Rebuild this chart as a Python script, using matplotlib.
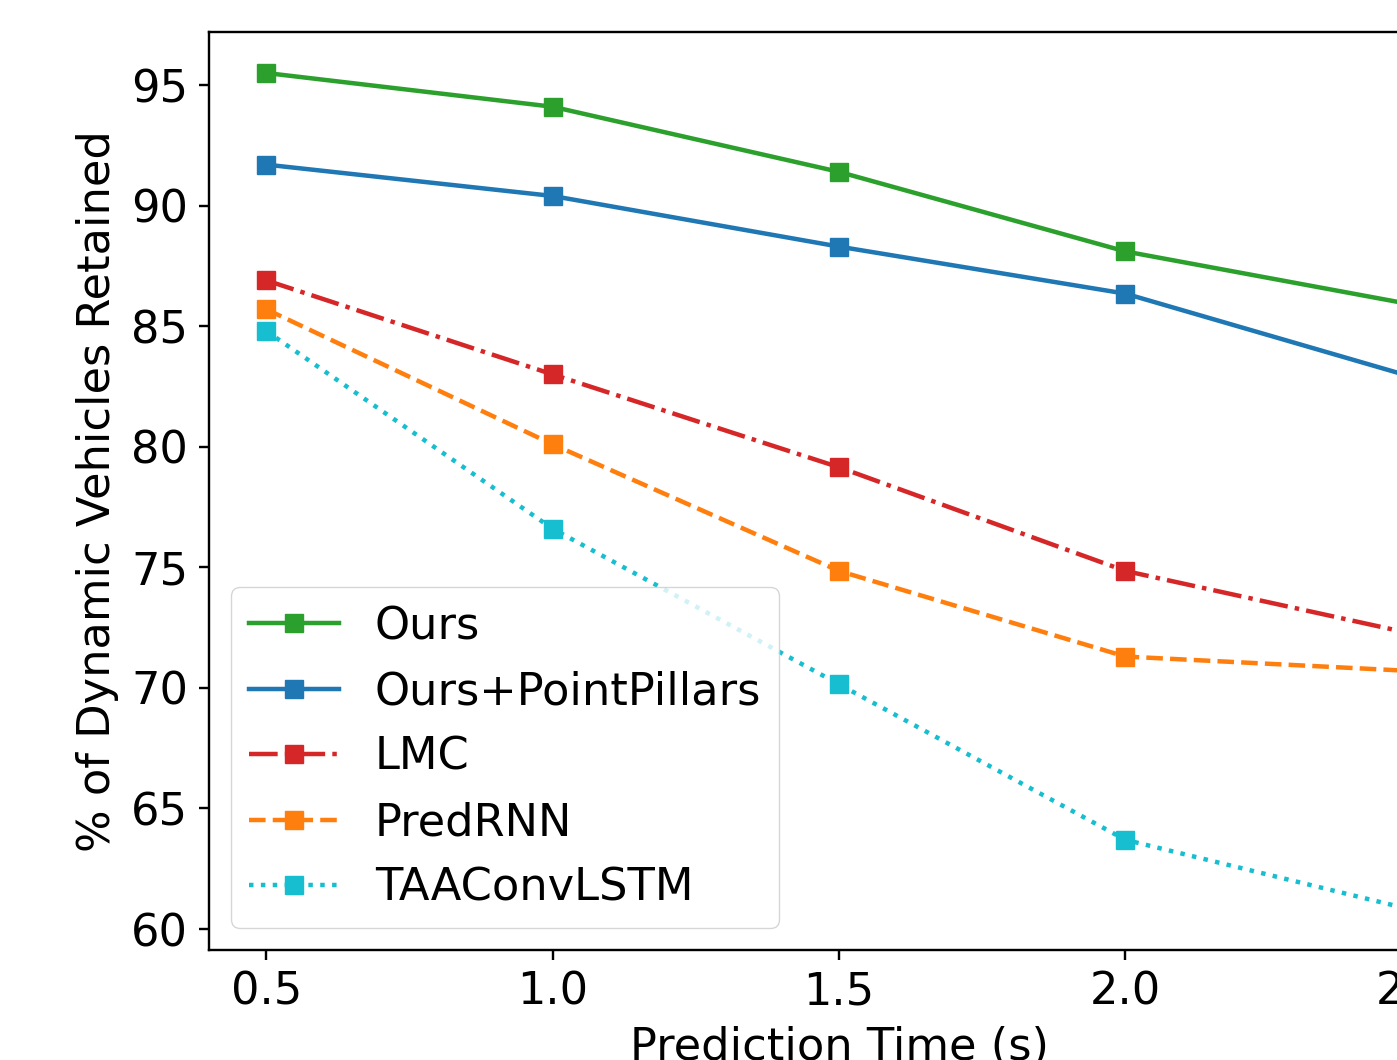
import matplotlib
matplotlib.use('Agg')
import matplotlib.pyplot as plt

# prediction horizons (s) and retained-vehicle percentages per method
times = [0.5, 1.0, 1.5, 2.0, 2.5]
ours = [95.5, 94.1, 91.4, 88.1, 85.9]
ours_pp = [91.7, 90.4, 88.3, 86.35, 82.9]
lmc = [86.9, 83.0, 79.15, 74.85, 72.25]
predrnn = [85.7, 80.1, 74.85, 71.3, 70.7]
taaconvlstm = [84.8, 76.6, 70.15, 63.7, 60.8]

names = ['Ours', 'Ours+PointPillars', 'LMC', 'PredRNN', 'TAAConvLSTM']
series = [ours, ours_pp, lmc, predrnn, taaconvlstm]
colors = ['tab:green', 'tab:blue', 'tab:red', 'tab:orange', 'tab:cyan']
styles = ['-', '-', '-.', '--', ':']

s = 2.15  # scale of the upscaled original
plt.rcParams['font.family'] = ['DejaVu Sans']
plt.rcParams['font.size'] = 15 * s

fig = plt.figure(figsize=(13.97, 10.60), dpi=100)
# axes extends beyond the right edge: the source image was cropped
ax = fig.add_axes([209 / 1397, 110 / 1060, 1260 / 1397, 918 / 1060])

for name, vals, c, ls in zip(names, series, colors, styles):
    ax.plot(times, vals, linestyle=ls, color=c, marker='s',
            linewidth=1.5 * s, markersize=6 * s, label=name)

ax.set_ylim(59.13, 97.2)
ax.set_xticks([0.5, 1.0, 1.5, 2.0, 2.5])
ax.set_yticks([60, 65, 70, 75, 80, 85, 90, 95])
ax.set_xlabel('Prediction Time (s)', labelpad=4 * s)
ax.set_ylabel('% of Dynamic Vehicles Retained', labelpad=4 * s)
ax.tick_params(length=3.5 * s, width=0.8 * s, pad=3.5 * s)
for sp in ax.spines.values():
    sp.set_linewidth(0.8 * s)

ax.legend(loc='lower left', handlelength=2.0, framealpha=0.8)

plt.savefig('out.png', dpi=100)
plt.close()
